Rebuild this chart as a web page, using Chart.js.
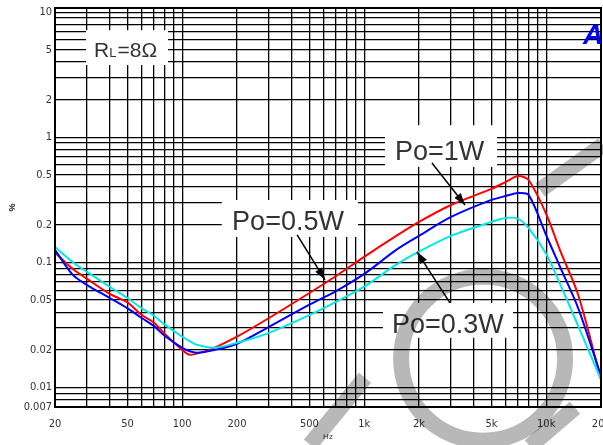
<!DOCTYPE html>
<html>
<head>
<meta charset="utf-8">
<script src="https://cdn.jsdelivr.net/npm/chart.js@4.4.0/dist/chart.umd.min.js"></script>
<style>
  html, body { margin: 0; padding: 0; background: #fff; }
  #wrap { width: 603px; height: 445px; }
</style>
</head>
<body>
<div id="wrap"><canvas id="chart" width="603" height="445"></canvas></div>
<script>
// THD+N (%) vs frequency (Hz), RL = 8 ohm
const freqs = [20, 25, 30, 40, 50, 60, 70, 80, 100, 110, 120, 150, 200, 300, 500, 700, 1000, 1500, 2000, 3000, 5000, 6000, 7000, 8000, 10000, 12000, 15000, 20000];
const thd1W   = [0.12, 0.089, 0.074, 0.056, 0.048, 0.038, 0.033, 0.027, 0.020, 0.0183, 0.0187, 0.0208, 0.0255, 0.036, 0.057, 0.078, 0.111, 0.163, 0.211, 0.288, 0.387, 0.44, 0.49, 0.456, 0.244, 0.122, 0.055, 0.0116];
const thd05W  = [0.126, 0.080, 0.066, 0.052, 0.043, 0.036, 0.031, 0.026, 0.0208, 0.0195, 0.019, 0.020, 0.0224, 0.0306, 0.046, 0.059, 0.081, 0.126, 0.163, 0.231, 0.316, 0.34, 0.359, 0.347, 0.165, 0.09, 0.043, 0.0124];
const thd03W  = [0.133, 0.101, 0.084, 0.064, 0.052, 0.043, 0.0375, 0.032, 0.0255, 0.0235, 0.022, 0.0208, 0.0228, 0.0274, 0.038, 0.0485, 0.064, 0.096, 0.122, 0.163, 0.211, 0.227, 0.223, 0.189, 0.117, 0.066, 0.031, 0.0116];

const xTickValues = [20, 50, 100, 200, 500, 1000, 2000, 5000, 10000, 20000];
const xTickText   = ['20', '50', '100', '200', '500', '1k', '2k', '5k', '10k', '20k'];
const yTickValues = [0.007, 0.01, 0.02, 0.05, 0.1, 0.2, 0.5, 1, 2, 5, 10];
const yTickText   = ['0.007', '0.01', '0.02', '0.05', '0.1', '0.2', '0.5', '1', '2', '5', '10'];

// label boxes and arrows, in data units (Hz, %)
const labels = [
  { text: 'Po=1W',   box: [1300, 5370, 0.58, 1.25],  at: [1476, 0.659] },
  { text: 'Po=0.5W', box: [165, 924, 0.16, 0.316],   at: [188, 0.182] },
  { text: 'Po=0.3W', box: [1268, 6570, 0.025, 0.0476], at: [1422, 0.0274] }
];
const arrows = [
  [[2356, 0.624], [3580, 0.288]],
  [[428, 0.166], [609, 0.0726]],
  [[2960, 0.0476], [1950, 0.1216]]
];
const rlBox = [29.6, 83.6, 3.78, 7.18];
const rlAt = [32.8, 4.37];

function logGrid(lo, hi) {
  const out = [];
  for (let e = -3; e <= 4; e++) {
    for (let m = 1; m <= 9; m++) {
      const v = +(m * Math.pow(10, e)).toPrecision(6);
      if (v >= lo * 0.999 && v <= hi * 1.001) out.push(v);
    }
  }
  return out;
}

function findLabel(vals, txt, v) {
  const i = vals.findIndex(t => Math.abs(t - v) / t < 1e-6);
  return i >= 0 ? txt[i] : '';
}

const tickFont = { family: "'Liberation Sans Narrow', 'DejaVu Sans Condensed', Arial, sans-serif", size: 11 };

const decorPlugin = {
  id: 'decor',
  afterDatasetsDraw(chart) {
    const { ctx, chartArea: a, scales: { x, y } } = chart;
    const px = v => x.getPixelForValue(v);
    const py = v => y.getPixelForValue(v);
    ctx.save();

    // frame
    ctx.strokeStyle = '#000';
    ctx.lineWidth = 2;
    ctx.strokeRect(a.left, a.top, a.right - a.left, a.bottom - a.top);

    // RL box
    ctx.fillStyle = '#fff';
    ctx.fillRect(px(rlBox[0]), py(rlBox[3]), px(rlBox[1]) - px(rlBox[0]), py(rlBox[2]) - py(rlBox[3]));
    ctx.fillStyle = '#333';
    ctx.textBaseline = 'alphabetic';
    ctx.font = "21px 'Liberation Sans', Arial, sans-serif";
    let tx = px(rlAt[0]);
    const ty = py(rlAt[1]);
    ctx.fillText('R', tx, ty);
    tx += ctx.measureText('R').width;
    ctx.font = "13px 'Liberation Sans', Arial, sans-serif";
    ctx.fillText('L', tx, ty);
    tx += ctx.measureText('L').width + 1;
    ctx.font = "21px 'Liberation Sans', Arial, sans-serif";
    ctx.fillText('=8\u03A9', tx, ty);

    // Po boxes
    ctx.font = "27px 'Liberation Sans', Arial, sans-serif";
    labels.forEach(l => {
      ctx.fillStyle = '#fff';
      ctx.fillRect(px(l.box[0]), py(l.box[3]), px(l.box[1]) - px(l.box[0]), py(l.box[2]) - py(l.box[3]));
      ctx.fillStyle = '#333';
      ctx.fillText(l.text, px(l.at[0]), py(l.at[1]));
    });

    // arrows
    ctx.strokeStyle = '#000';
    ctx.fillStyle = '#000';
    ctx.lineWidth = 1.5;
    arrows.forEach(([p0, p1]) => {
      const x0 = px(p0[0]), y0 = py(p0[1]), x1 = px(p1[0]), y1 = py(p1[1]);
      const ang = Math.atan2(y1 - y0, x1 - x0);
      ctx.beginPath();
      ctx.moveTo(x0, y0);
      ctx.lineTo(x1, y1);
      ctx.stroke();
      ctx.beginPath();
      ctx.moveTo(x1, y1);
      ctx.lineTo(x1 - 12 * Math.cos(ang) + 4 * Math.sin(ang), y1 - 12 * Math.sin(ang) - 4 * Math.cos(ang));
      ctx.lineTo(x1 - 12 * Math.cos(ang) - 4 * Math.sin(ang), y1 - 12 * Math.sin(ang) + 4 * Math.cos(ang));
      ctx.closePath();
      ctx.fill();
    });

    // logo fragment, top right
    ctx.fillStyle = '#0000ff';
    ctx.font = "italic bold 28px 'Liberation Sans', Arial, sans-serif";
    ctx.fillText('A', px(20000) - 18, py(5.6));

    // grey watermark
    ctx.strokeStyle = 'rgba(0,0,0,0.28)';
    ctx.lineWidth = 16;
    ctx.lineCap = 'butt';
    ctx.beginPath();
    ctx.arc(px(4500), py(0.017), 82, 0, Math.PI * 2);
    ctx.stroke();
    const bars = [
      [[504, 0.0035], [1010, 0.012]],
      [[8140, 0.0034], [14390, 0.0069]],
      [[9240, 0.38], [20500, 0.868]]
    ];
    bars.forEach(([p0, p1]) => {
      ctx.beginPath();
      ctx.moveTo(px(p0[0]), py(p0[1]));
      ctx.lineTo(px(p1[0]), py(p1[1]));
      ctx.stroke();
    });
    ctx.restore();
  }
};

const mk = (vals) => freqs.map((f, i) => ({ x: f, y: vals[i] }));

new Chart(document.getElementById('chart'), {
  type: 'line',
  data: {
    datasets: [
      { label: 'Po=0.3W', data: mk(thd03W), borderColor: '#00e8e8', borderWidth: 2, pointRadius: 0, tension: 0.3 },
      { label: 'Po=0.5W', data: mk(thd05W), borderColor: '#0000ff', borderWidth: 2, pointRadius: 0, tension: 0.3 },
      { label: 'Po=1W', data: mk(thd1W), borderColor: '#ff0000', borderWidth: 2, pointRadius: 0, tension: 0.3 }
    ]
  },
  options: {
    responsive: false,
    animation: false,
    devicePixelRatio: 1,
    layout: { padding: { top: 8, right: 2, left: 0, bottom: 0 }, autoPadding: false },
    plugins: { legend: { display: false }, tooltip: { enabled: false } },
    scales: {
      x: {
        type: 'logarithmic',
        min: 20,
        max: 20000,
        grid: { color: '#000', lineWidth: 1.3, drawTicks: false },
        border: { display: false },
        afterBuildTicks: s => { s.ticks = logGrid(20, 20000).map(v => ({ value: v })); },
        afterFit: s => { s.height = 38; s.paddingLeft = 0; s.paddingRight = 0; },
        ticks: {
          autoSkip: false, maxRotation: 0, padding: 11, color: '#333', font: tickFont,
          callback: v => findLabel(xTickValues, xTickText, v)
        },
        title: { display: true, text: 'Hz', color: '#333', font: { size: 8 }, padding: { top: 0, bottom: 3 } }
      },
      y: {
        type: 'logarithmic',
        min: 0.007,
        max: 10.8,
        grid: { color: '#000', lineWidth: 1.3, drawTicks: false },
        border: { display: false },
        afterBuildTicks: s => { s.ticks = logGrid(0.007, 10).map(v => ({ value: v })); },
        afterFit: s => { s.width = 55; s.paddingTop = 0; s.paddingBottom = 0; },
        ticks: {
          autoSkip: false, padding: 3, color: '#333', font: tickFont,
          callback: v => findLabel(yTickValues, yTickText, v)
        },
        title: { display: true, text: '%', color: '#222', font: { size: 9, weight: 'bold' }, padding: { top: 7, bottom: 0 } }
      }
    }
  },
  plugins: [decorPlugin]
});
</script>
</body>
</html>
